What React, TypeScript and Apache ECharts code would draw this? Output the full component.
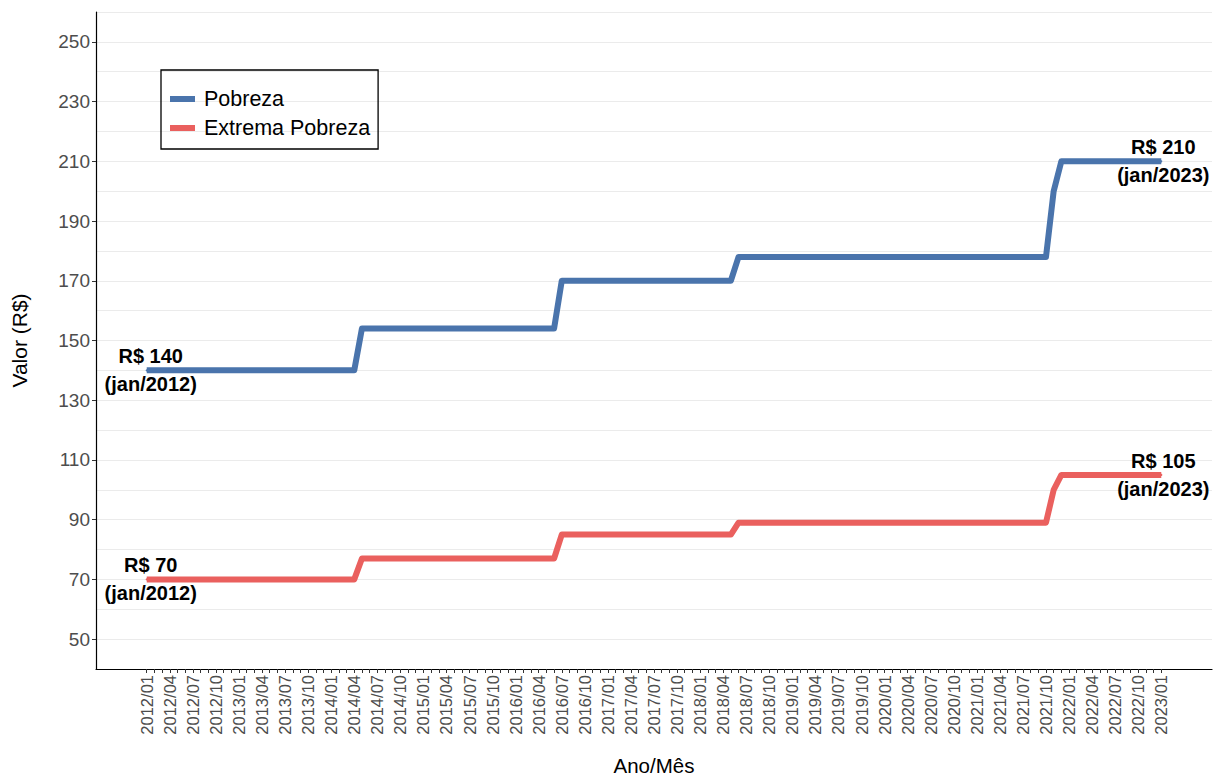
import React, { useEffect, useRef } from "react";
import * as echarts from "echarts";

// Month categories (tick labels) 2012/01 .. 2023/01
const years = [2012, 2013, 2014, 2015, 2016, 2017, 2018, 2019, 2020, 2021, 2022, 2023];
const months = ["01", "02", "03", "04", "05", "06", "07", "08", "09", "10", "11", "12"];
const monthLabels: string[] = [];
years.forEach((y) => months.forEach((m) => { if (y < 2023 || m === "01") monthLabels.push(`${y}/${m}`); }));

// Breakpoints (month, value)
const breakMonths = ["2012/01", "2014/04", "2014/05", "2016/06", "2016/07", "2018/05", "2018/06", "2021/10", "2021/11", "2021/12", "2023/01"];
const pobrezaValues = [140, 140, 154, 154, 170, 170, 178, 178, 200, 210, 210];
const extremaValues = [70, 70, 77, 77, 85, 85, 89, 89, 100, 105, 105];

const yLabelValues = [50, 70, 90, 110, 130, 150, 170, 190, 210, 230, 250];

const FONT = "Liberation Sans, Arial, sans-serif";
const BLUE = "#4a74ac";
const RED = "#ea605e";

function buildData(values: number[]) {
  const last = values.length - 1;
  return breakMonths.map((m, i) => {
    const x = monthLabels.indexOf(m);
    const item: any = { value: [x, values[i]] };
    if (i === 0 || i === last) {
      const [yy, mm] = m.split("/");
      const mon = mm === "01" ? "jan" : mm;
      item.label = {
        show: true,
        position: "inside",
        offset: [i === 0 ? 4 : 2, 0],
        formatter: `R$ ${values[i]}\n(${mon}/${yy})`,
        fontFamily: FONT,
        fontWeight: "bold",
        fontSize: 20,
        lineHeight: 28,
        color: "#000",
        align: "center",
      };
    }
    return item;
  });
}

export default function App() {
  const ref = useRef<HTMLDivElement>(null);
  useEffect(() => {
    const chart = echarts.init(ref.current!, null, { renderer: "svg" });
    const tickIdx = monthLabels.map((_, i) => i);
    const labelIdx = tickIdx.filter((i) => i % 3 === 0);
    const pad = (monthLabels.length - 1) * 0.05;
    chart.setOption({
      animation: false,
      backgroundColor: "#fff",
      grid: { left: 96, top: 12, right: 9, bottom: 109, containLabel: false, outerBoundsMode: "none" },
      legend: {
        left: 161,
        top: 70,
        orient: "vertical",
        icon: "rect",
        itemWidth: 25,
        itemHeight: 6,
        itemGap: 7,
        padding: [18, 8, 10, 9],
        borderColor: "#000",
        borderWidth: 1.3,
        textStyle: { fontFamily: FONT, fontSize: 21.5, color: "#000", lineHeight: 20, padding: [0, 0, 0, 4] },
        data: ["Pobreza", "Extrema Pobreza"],
      },
      xAxis: {
        type: "value",
        min: -pad,
        max: monthLabels.length - 1 + pad,
        name: "Ano/Mês",
        nameLocation: "middle",
        nameGap: 86,
        nameTextStyle: { fontFamily: FONT, fontSize: 20.5, color: "#000" },
        splitLine: { show: false },
        axisLine: { show: true, onZero: false, lineStyle: { color: "#000", width: 1.2 } },
        axisTick: { show: true, length: 4, customValues: tickIdx, lineStyle: { color: "#333" } },
        axisLabel: {
          customValues: labelIdx,
          rotate: 90,
          margin: 6,
          fontFamily: FONT,
          fontSize: 16.5,
          color: "#4d4d4d",
          formatter: (v: number) => monthLabels[Math.round(v)] ?? "",
        },
      },
      yAxis: [
        {
          type: "value",
          min: 40,
          max: 260,
          interval: 10,
          name: "Valor (R$)",
          nameLocation: "middle",
          nameGap: 66,
          nameTextStyle: { fontFamily: FONT, fontSize: 21, color: "#000" },
          axisLine: { show: true, onZero: false, lineStyle: { color: "#000", width: 1.2 } },
          axisTick: { show: false },
          axisLabel: { show: false },
          splitLine: { show: true, lineStyle: { color: "#ebebeb", width: 1 } },
        },
        {
          type: "value",
          min: 40,
          max: 260,
          position: "left",
          axisLine: { show: false, onZero: false },
          splitLine: { show: false },
          axisTick: { show: true, length: 4, customValues: yLabelValues, lineStyle: { color: "#333" } },
          axisLabel: {
            customValues: yLabelValues,
            margin: 6,
            fontFamily: FONT,
            fontSize: 19,
            color: "#4d4d4d",
          },
        },
      ],
      series: [
        {
          name: "Pobreza",
          type: "line",
          yAxisIndex: 0,
          data: buildData(pobrezaValues),
          symbol: "circle",
          symbolSize: 2,
          showAllSymbol: true,
          itemStyle: { color: BLUE },
          lineStyle: { color: BLUE, width: 6, join: "round", cap: "butt" },
          z: 3,
        },
        {
          name: "Extrema Pobreza",
          type: "line",
          yAxisIndex: 0,
          data: buildData(extremaValues),
          symbol: "circle",
          symbolSize: 2,
          showAllSymbol: true,
          itemStyle: { color: RED },
          lineStyle: { color: RED, width: 6, join: "round", cap: "butt" },
          z: 3,
        },
      ],
    });
    return () => chart.dispose();
  }, []);
  return <div ref={ref} style={{ position: "fixed", left: 0, top: 0, width: 1221, height: 778 }} />;
}
